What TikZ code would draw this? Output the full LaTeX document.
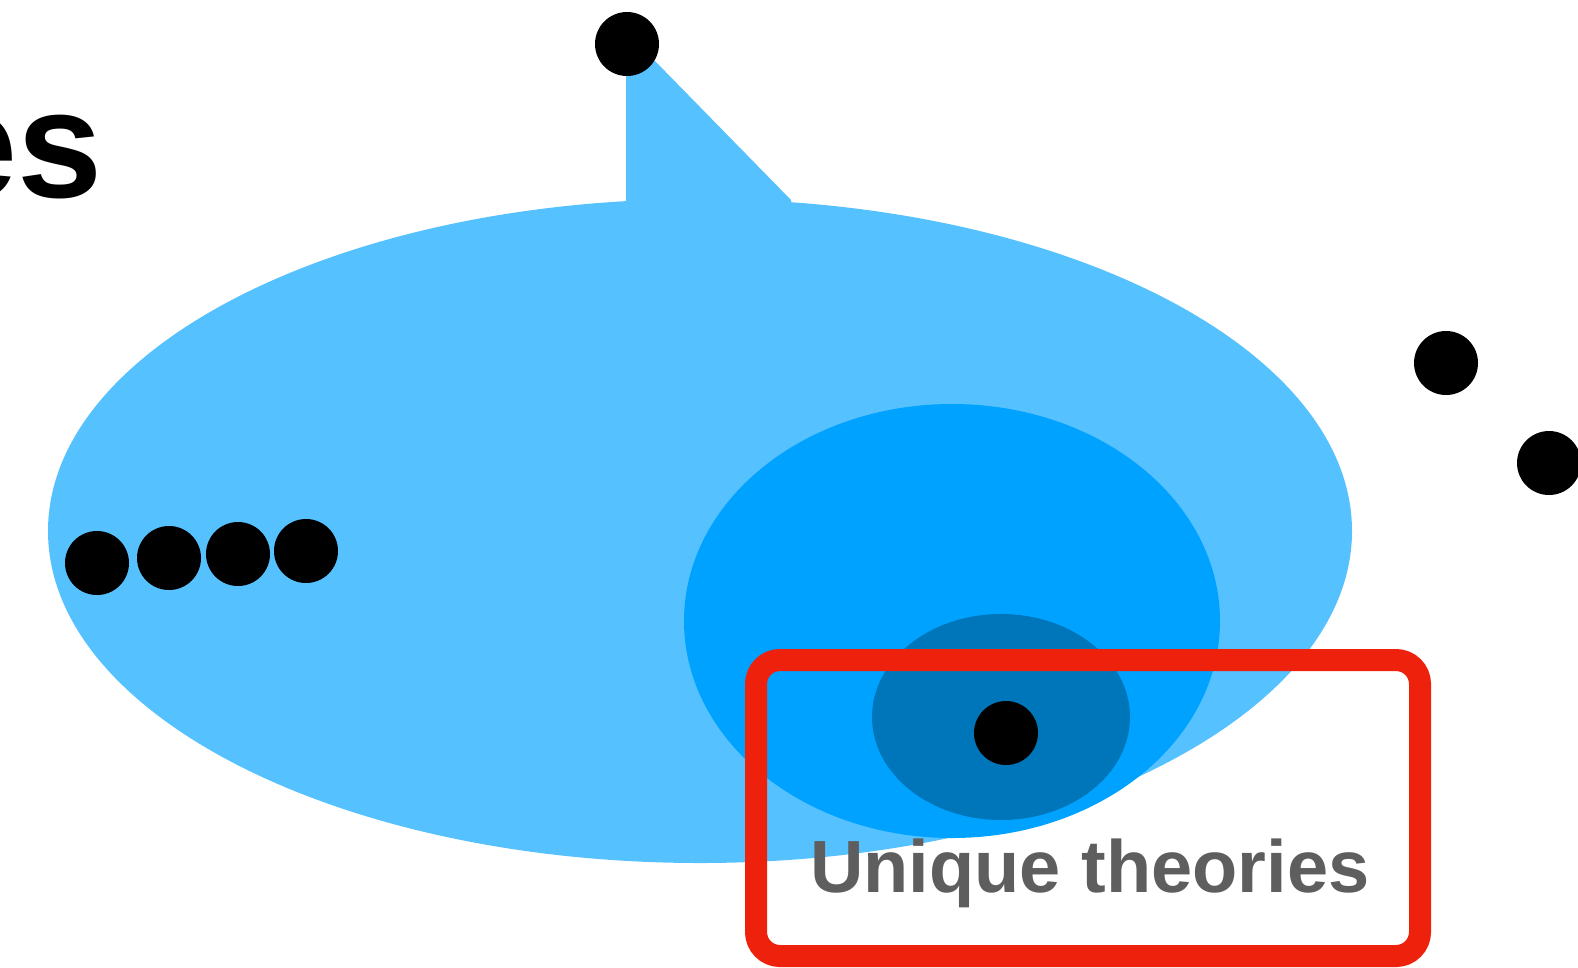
\documentclass[tikz,border=0pt]{standalone}
\usepackage{fontspec}
\setmainfont{Liberation Sans}
\usetikzlibrary{shapes.geometric}
\definecolor{lightblue}{HTML}{56C1FF}
\definecolor{midblue}{HTML}{00A2FF}
\definecolor{darkblue}{HTML}{0076BA}
\definecolor{boxred}{HTML}{EE220C}
\definecolor{labelgray}{HTML}{5E5E5E}
\begin{document}
\begin{tikzpicture}[x=1pt,y=-1pt,
  dot/.style={circle,fill=black,inner sep=0pt,minimum size=64pt},
  blob/.style={ellipse,inner sep=0pt}]
\useasboundingbox (0,0) rectangle (1578,967);
\clip (0,0) rectangle (1578,967);
% big ellipse
\node[blob,fill=lightblue,minimum width=1304pt,minimum height=664pt] (big) at (700,531) {};
% callout tail
\fill[lightblue] (626,215) -- (626,44) -- (654,60) -- (791,200) -- (791,215) -- cycle;
% inner ellipses
\node[blob,fill=midblue,minimum width=536pt,minimum height=434pt] (mid) at (952,621) {};
\node[blob,fill=darkblue,minimum width=258pt,minimum height=206pt] (core) at (1001,717) {};
% dots
\node[dot] (top) at (627,44) {};
\node[dot] (l1) at (97,563) {};
\node[dot] (l2) at (169,558) {};
\node[dot] (l3) at (238,554) {};
\node[dot] (l4) at (306,551) {};
\node[dot] (r1) at (1446,363) {};
\node[dot] (r2) at (1549,463) {};
\node[dot] (c) at (1006,733) {};
% label
\node[anchor=base west,inner sep=0pt,text=labelgray,font=\fontsize{74}{80}\selectfont\bfseries] (lab) at (810,892) {Unique theories};
% red box
\draw[boxred,line width=22pt,rounded corners=24pt] (756,660) rectangle (1420,956);
% title fragment
\node[anchor=base east,inner sep=0pt,font=\fontsize{153}{160}\selectfont\bfseries] (title) at (103,197) {es};
\end{tikzpicture}
\end{document}
